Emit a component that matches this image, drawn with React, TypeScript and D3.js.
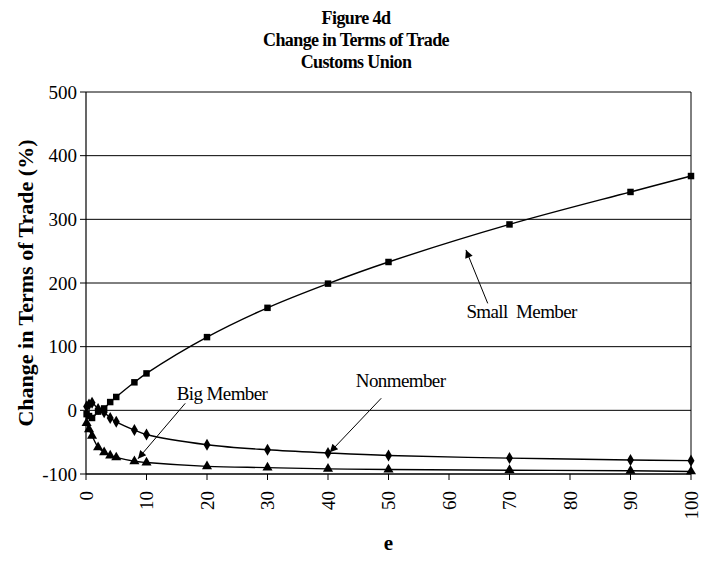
import React from 'react';
import * as d3 from 'd3';

const eValues = [0.1, 0.5, 1, 2, 3, 4, 5, 8, 10, 20, 30, 40, 50, 70, 90, 100];
const smallMember = [-6, -9, -12, -2, 3, 13, 21, 44, 58, 115, 161, 199, 233, 292, 343, 368];
const nonmember = [6, 9, 12, 2, -3, -12, -18, -31, -38, -54, -62, -67, -71, -75, -78, -79];
const bigMember = [-20, -30, -40, -58, -66, -71, -74, -80, -82, -88, -90, -92, -93, -94, -95, -96];

const xTicks = [0, 10, 20, 30, 40, 50, 60, 70, 80, 90, 100];
const yTicks = [-100, 0, 100, 200, 300, 400, 500];

const titleLines = ['Figure 4d', 'Change in Terms of Trade', 'Customs Union'];

// label + arrow, in data units
const notes = [
  { text: 'Small  Member', tx: 72, ty: 145, anchor: 'middle', from: [66.4, 168], to: [62.8, 252] },
  { text: 'Big Member', tx: 15, ty: 16, anchor: 'start', from: [16.4, 11], to: [8.6, -76] },
  { text: 'Nonmember', tx: 52, ty: 36, anchor: 'middle', from: [48.8, 19], to: [40.3, -66] },
];

const width = 713;
const height = 567;
const margin = { top: 92, right: 22, bottom: 93, left: 86 };
const serif = '"Liberation Serif", "Times New Roman", serif';

const App: React.FC = () => {
  const x = d3.scaleLinear().domain([0, 100]).range([margin.left, width - margin.right]);
  const y = d3.scaleLinear().domain([-100, 500]).range([height - margin.bottom, margin.top]);

  const line = d3
    .line<[number, number]>()
    .x((d) => x(d[0]))
    .y((d) => y(d[1]))
    .curve(d3.curveCatmullRom);

  const pts = (vals: number[]) => eValues.map((e, i) => [e, vals[i]] as [number, number]);

  const square = d3.symbol(d3.symbolSquare, 42)();
  const diamond = d3.symbol(d3.symbolDiamond, 42)();
  const triangle = d3.symbol(d3.symbolTriangle, 44)();

  const series = [
    { vals: smallMember, marker: square },
    { vals: nonmember, marker: diamond },
    { vals: bigMember, marker: triangle },
  ];

  const x0 = x(0);
  const x1 = x(100);
  const yb = y(-100);

  return (
    <svg width={width} height={height} style={{ display: 'block', position: 'absolute', left: 0, top: 0 }}>
      <rect width={width} height={height} fill="#fff" />
      <defs>
        <marker id="arrow" viewBox="0 0 10 10" refX="10" refY="5" markerWidth="11" markerHeight="8" orient="auto" markerUnits="userSpaceOnUse">
          <path d="M0,0 L10,5 L0,10 z" fill="#000" />
        </marker>
      </defs>

      {titleLines.map((t, i) => (
        <text key={t} x={356} y={24 + i * 22} textAnchor="middle" fontFamily={serif} fontWeight="bold" fontSize={18} letterSpacing={-0.6}>
          {t}
        </text>
      ))}

      {/* gridlines */}
      {yTicks.map((t) => (
        <line key={t} x1={x0} x2={x1} y1={y(t)} y2={y(t)} stroke="#000" strokeWidth={1} />
      ))}
      <line x1={x1} x2={x1} y1={y(500)} y2={yb} stroke="#000" strokeWidth={1} />

      {/* y axis */}
      <line x1={x0} x2={x0} y1={y(500)} y2={yb} stroke="#000" strokeWidth={1.2} />
      {yTicks.map((t) => (
        <g key={t}>
          <line x1={x0 - 6} x2={x0} y1={y(t)} y2={y(t)} stroke="#000" />
          <text x={x0 - 9} y={y(t)} dy="0.35em" textAnchor="end" fontFamily={serif} fontSize={19}>
            {t}
          </text>
        </g>
      ))}

      {/* x axis */}
      <line x1={x0} x2={x1} y1={yb} y2={yb} stroke="#000" strokeWidth={1.2} />
      {xTicks.map((t) => (
        <g key={t}>
          <line x1={x(t)} x2={x(t)} y1={yb} y2={yb + 6} stroke="#000" />
          <text transform={`translate(${x(t)},${yb + 17}) rotate(-90)`} dy="0.35em" textAnchor="end" fontFamily={serif} fontSize={19}>
            {t}
          </text>
        </g>
      ))}

      <text transform={`translate(25,${(y(500) + yb) / 2}) rotate(-90)`} textAnchor="middle" dy="0.35em" fontFamily={serif} fontWeight="bold" fontSize={22}>
        Change in Terms of Trade (%)
      </text>
      <text x={(x0 + x1) / 2} y={550} textAnchor="middle" fontFamily={serif} fontWeight="bold" fontSize={21}>
        e
      </text>

      {/* series */}
      {series.map((s, i) => (
        <g key={i}>
          <path d={line(pts(s.vals)) || ''} fill="none" stroke="#000" strokeWidth={1.4} />
          {pts(s.vals).map((p, j) => (
            <path key={j} d={s.marker || ''} transform={`translate(${x(p[0])},${y(p[1])})`} fill="#000" />
          ))}
        </g>
      ))}

      {/* annotations */}
      {notes.map((n) => (
        <g key={n.text}>
          <line x1={x(n.from[0])} y1={y(n.from[1])} x2={x(n.to[0])} y2={y(n.to[1])} stroke="#000" strokeWidth={1} markerEnd="url(#arrow)" />
          <text x={x(n.tx)} y={y(n.ty)} textAnchor={n.anchor as any} fontFamily={serif} fontSize={19} letterSpacing={-0.6} style={{ whiteSpace: 'pre' }}>
            {n.text}
          </text>
        </g>
      ))}
    </svg>
  );
};

export default App;
